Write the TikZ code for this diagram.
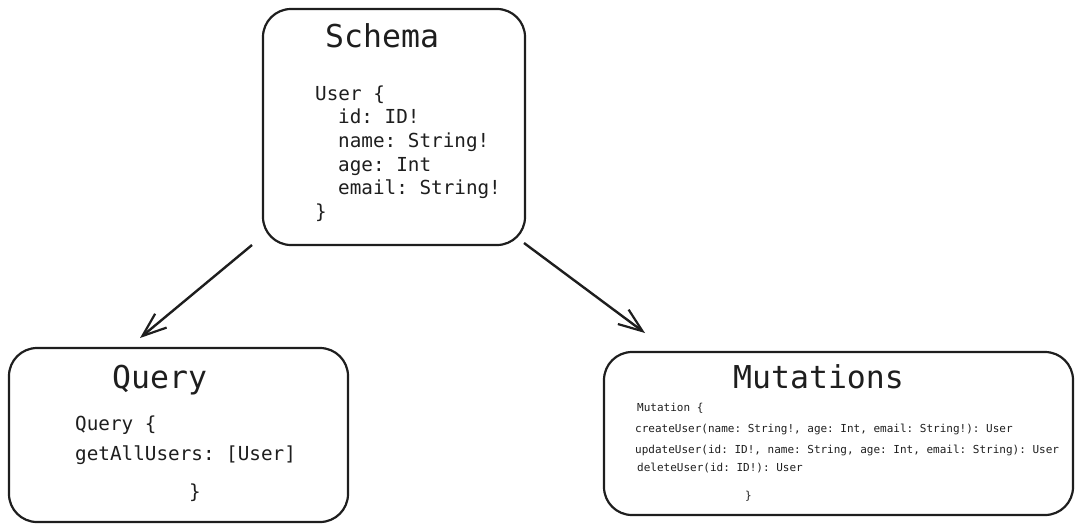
\documentclass[tikz,border=0pt]{standalone}
\usepackage{fontspec}
\setmonofont{DejaVu Sans Mono}
\usepackage{xcolor}
\definecolor{ink}{HTML}{1E1E1E}
\usetikzlibrary{arrows.meta}
\tikzset{
  box/.style={draw=ink, line width=2.2pt, rounded corners=28pt, inner sep=0pt},
  title/.style={font=\ttfamily\fontsize{31.5}{36}\selectfont, text=ink, anchor=base west, inner sep=0pt},
  code/.style={font=\ttfamily\fontsize{19.3}{23.7}\selectfont, text=ink, anchor=base west, inner sep=0pt},
  small/.style={font=\ttfamily\fontsize{11}{13}\selectfont, text=ink, anchor=base west, inner sep=0pt},
  link/.style={line width=2.4pt, draw=ink, -{Straight Barb[length=24pt,width=18pt,line width=2.2pt]}},
}
\begin{document}
\begin{tikzpicture}[x=1pt, y=-1pt]
\useasboundingbox (0,0) rectangle (1083,531);
\node[box, minimum width=262pt, minimum height=236pt] (schema) at (394,127) {};
\node[box, minimum width=339pt, minimum height=174pt] (query) at (178.5,435) {};
\node[box, minimum width=469pt, minimum height=163pt] (mutations) at (838.5,433.5) {};
\node[title] (schemaTitle) at (325,47) {Schema};
\node[code] (user) at (315,100) {User \{};
\node[code] (id) at (338,123.7) {id: ID!};
\node[code] (name) at (338,147.4) {name: String!};
\node[code] (age) at (338,171) {age: Int};
\node[code] (email) at (338,194.8) {email: String!};
\node[code] (userEnd) at (315,218.5) {\}};
\node[title] (queryTitle) at (112,388) {Query};
\node[code] (queryOpen) at (75,430) {Query \{};
\node[code] (getAll) at (75,460) {getAllUsers: [User]};
\node[code] (queryEnd) at (189,498) {\}};
\node[title] (mutTitle) at (733,388) {Mutations};
\node[small] (mutOpen) at (637,411) {Mutation \{};
\node[small] (create) at (635,432) {createUser(name: String!, age: Int, email: String!): User};
\node[small] (update) at (635,453) {updateUser(id: ID!, name: String, age: Int, email: String): User};
\node[small] (delete) at (637,471) {deleteUser(id: ID!): User};
\node[small] (mutEnd) at (745,499) {\}};
\coordinate (qStart) at (252,245);
\coordinate (qTip) at (140,338);
\coordinate (mStart) at (524,243);
\coordinate (mTip) at (645,333);
\draw[link] (qStart) -- (qTip);
\draw[link] (mStart) -- (mTip);
\end{tikzpicture}
\end{document}
